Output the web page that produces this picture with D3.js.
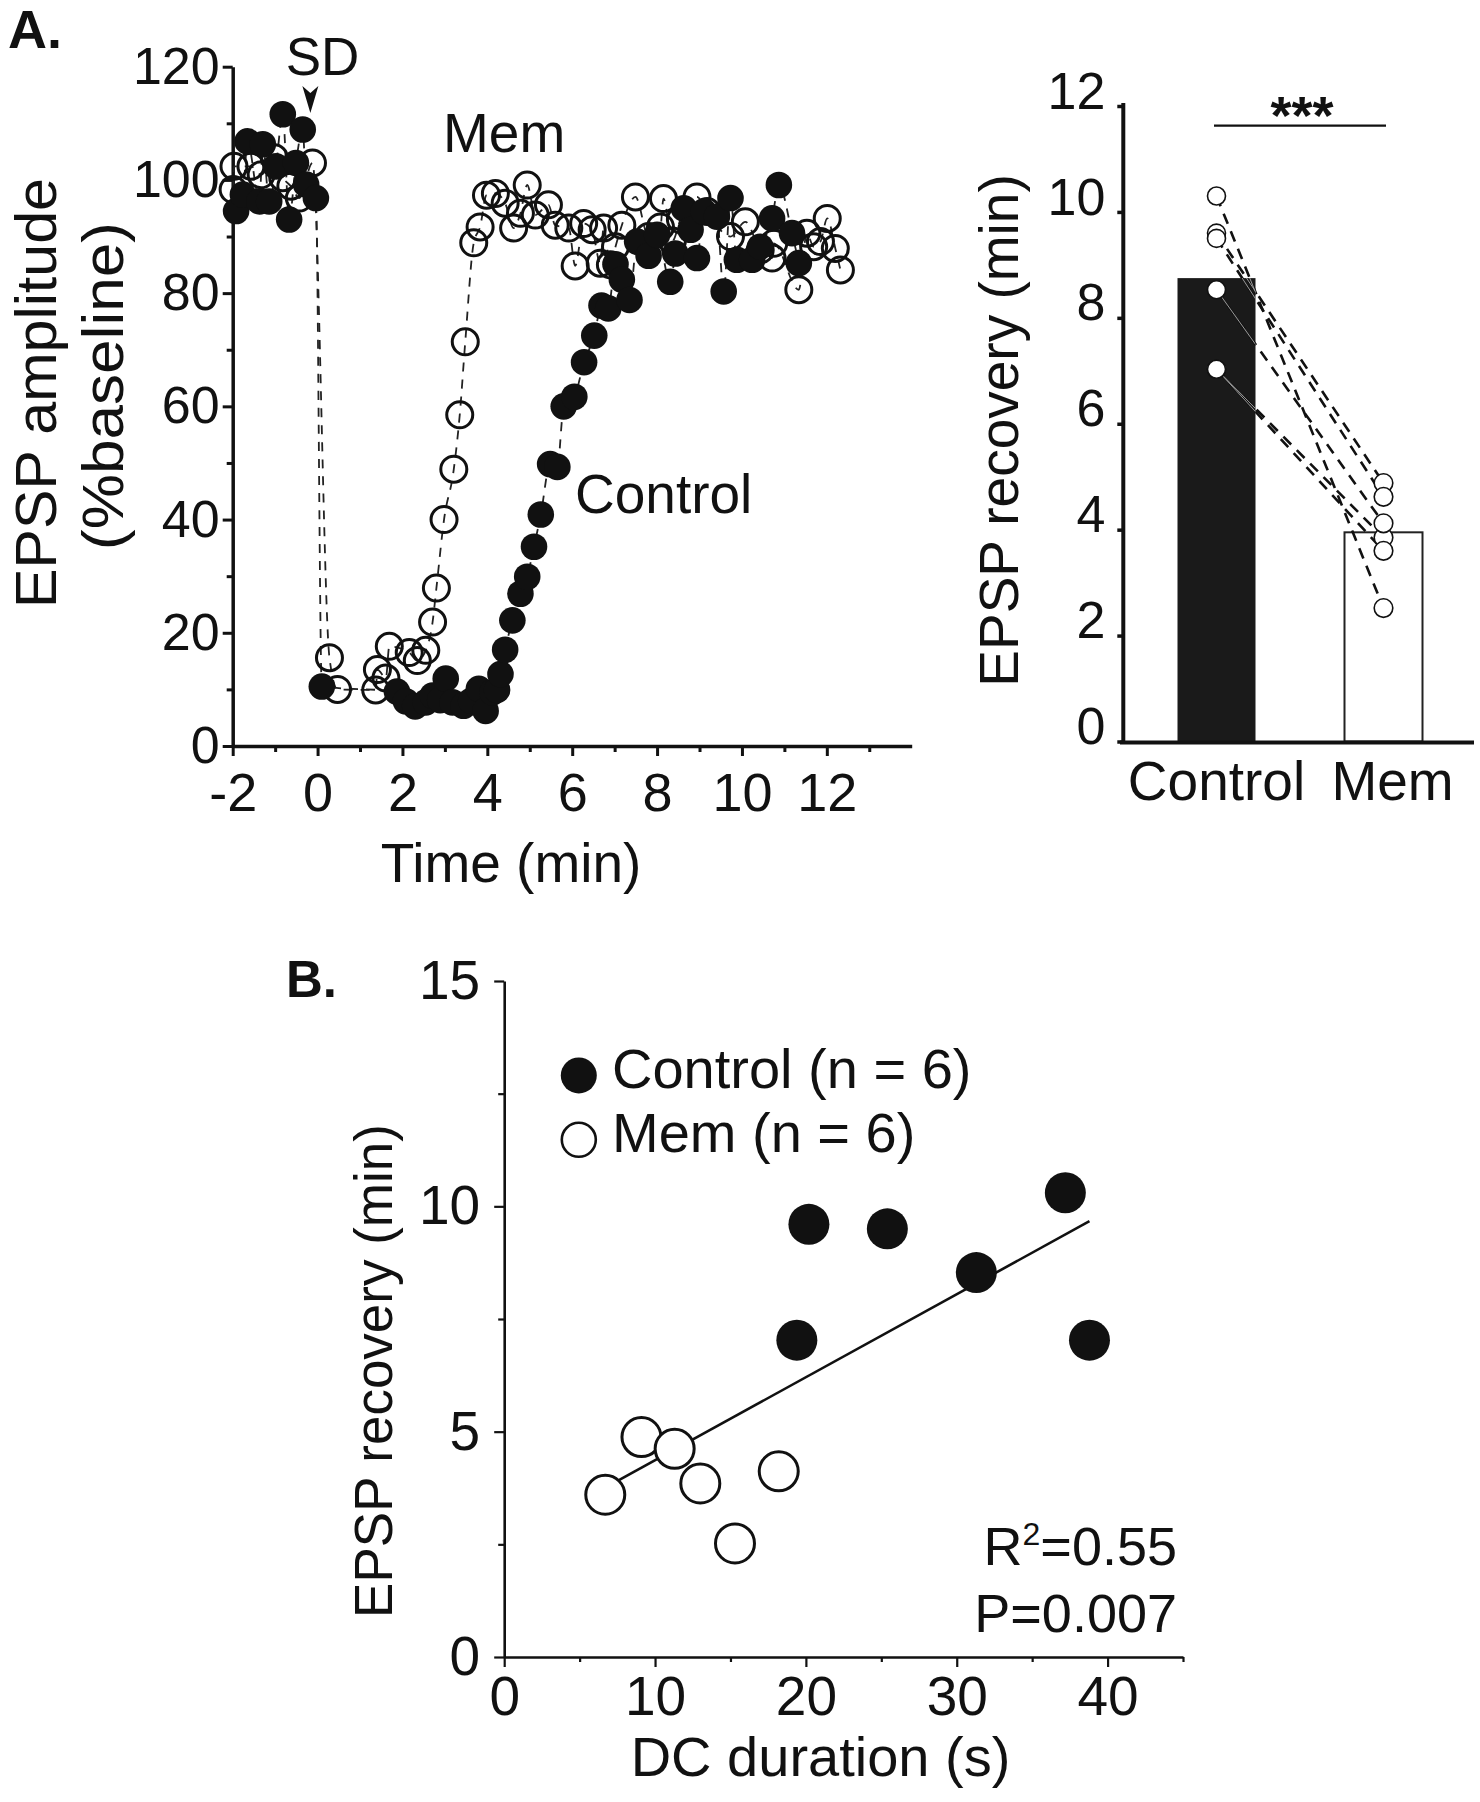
<!DOCTYPE html>
<html><head><meta charset="utf-8">
<script src="https://cdn.jsdelivr.net/npm/d3@7"></script>
<style>
body{margin:0;background:#fff;}
svg text{font-family:"Liberation Sans", Arial, Helvetica, sans-serif; fill:#111;}
</style></head><body>
<svg id="fig" width="1480" height="1802"></svg>
<script>
// ---------------- DATA ----------------
// Panel A (left): EPSP amplitude time course
const controlTime = [-1.92,-1.76,-1.65,-1.37,-1.29,-1.14,-0.98,-0.82,-0.67,-0.51,-0.35,-0.27,-0.04,
  0.10,1.87,2.08,2.30,2.55,2.71,2.89,3.02,3.18,3.44,3.62,3.80,3.96,4.12,4.23,4.31,4.42,4.59,4.78,4.94,
  5.10,5.26,5.48,5.65,5.80,6.05,6.28,6.52,6.69,6.85,7.02,7.17,7.35,7.53,7.80,8.00,8.31,8.43,8.63,8.79,
  8.94,9.10,9.41,9.57,9.73,9.88,10.24,10.43,10.71,10.87,11.18,11.34];
const controlAmp = [94.5,97.4,106.8,96.2,106.3,96.2,102.4,111.6,93.0,103.0,108.9,99.2,96.8,
  10.5,9.6,7.9,7.0,7.7,8.9,8.1,11.9,7.7,7.1,8.0,10.1,6.2,9.5,9.9,12.7,17.0,22.2,26.9,29.9,
  35.2,40.9,49.8,49.3,60.0,61.7,67.8,72.5,77.8,77.3,85.1,82.4,78.8,89.1,86.6,90.3,82.0,87.0,95.0,91.2,
  86.2,94.4,93.5,80.3,96.8,85.9,85.9,88.2,93.2,99.1,90.6,85.3];
const memTime = [-1.99,-1.97,-1.57,-1.33,-1.02,-0.82,-0.63,-0.43,-0.12,
  0.28,0.47,1.37,1.41,1.61,1.69,2.16,2.35,2.55,2.71,2.80,2.98,3.21,3.35,3.48,3.68,3.83,3.98,4.19,4.42,
  4.62,4.78,4.94,5.13,5.44,5.60,5.92,6.07,6.27,6.47,6.66,6.74,6.90,7.02,7.17,7.49,7.80,8.08,8.15,8.36,
  8.55,8.94,9.18,9.73,10.08,10.43,10.71,10.75,11.34,11.53,11.69,11.85,12.01,12.20,12.32];
const memAmp = [98.3,102.4,102.4,100.9,103.9,100.4,98.9,96.8,103.0,
  15.6,10.0,9.9,13.5,12.0,17.6,16.5,15.1,16.9,21.9,27.9,40.0,48.9,58.5,71.4,88.9,91.7,97.3,97.6,95.9,
  91.5,94.1,99.1,93.8,95.6,92.0,91.5,84.8,92.3,91.2,85.3,91.5,85.0,88.2,92.0,97.0,90.0,91.7,96.7,89.2,
  93.0,97.0,94.4,90.0,92.6,87.6,86.2,88.8,80.6,90.6,88.2,89.1,93.2,87.9,84.1];
const timeTicks = [-2,0,2,4,6,8,10,12];
const timeMinorTicks = [-1,1,3,5,7,9,11,13];
const ampTicks = [0,20,40,60,80,100,120];
const ampMinorTicks = [10,30,50,70,90,110];
const sdTime = -0.17;

// Panel A (right) and panel B: EPSP recovery per slice
const groups = ["Control","Mem"];
const groupMeans = [8.75, 3.95];
const controlDC = [20.2, 25.4, 37.2, 31.3, 19.4, 38.8];
const controlRec = [9.6, 9.5, 10.3, 8.53, 7.03, 7.03];
const memDC = [9.1, 11.3, 13.0, 18.2, 6.7, 15.3];
const memRec = [4.88, 4.62, 3.85, 4.12, 3.6, 2.52];
const pairIndex = [0, 1, 5, 3, 2, 4];
const recTicks = [0,2,4,6,8,10,12];
const dcTicks = [0,10,20,30,40];
const dcMinorTicks = [5,15,25,35,45];
const recTicksB = [0,5,10,15];
const recMinorTicksB = [2.5,7.5,12.5];

// ---------------- DRAW ----------------
const svg = d3.select("#fig");
svg.append("rect").attr("width",1480).attr("height",1802).attr("fill","#fff");
const INK = "#111";

function styleAxis(g, fs, domainW, tickW){
  g.attr("font-size", fs).attr("font-family", null);
  g.select(".domain").attr("stroke", INK).attr("stroke-width", domainW);
  g.selectAll(".tick line").attr("stroke", INK).attr("stroke-width", tickW);
  g.selectAll(".tick text").attr("fill", INK);
}

// ===== Panel A left =====
const xA = d3.scaleLinear().domain([-2,14]).range([232.7, 911.7]);
const yA = d3.scaleLinear().domain([0,120]).range([746, 66.7]);

const gA = svg.append("g");
const axYA = gA.append("g").attr("transform",`translate(${xA(-2)},0)`)
  .call(d3.axisLeft(yA).tickValues(ampTicks).tickSize(10).tickSizeOuter(0).tickPadding(3));
styleAxis(axYA, 52, 3.5, 3);
gA.append("g").attr("transform",`translate(${xA(-2)},0)`)
  .call(d3.axisLeft(yA).tickValues(ampMinorTicks).tickSize(6).tickFormat(""))
  .call(g=>{g.select(".domain").remove(); g.selectAll("line").attr("stroke",INK).attr("stroke-width",3);});

const axXA = gA.append("g").attr("transform",`translate(0,${yA(0)})`)
  .call(d3.axisBottom(xA).tickValues(timeTicks).tickSize(10).tickSizeOuter(0).tickPadding(17)
    .tickFormat(d=>String(d)));
styleAxis(axXA, 54, 3.5, 3);
gA.append("g").attr("transform",`translate(0,${yA(0)})`)
  .call(d3.axisBottom(xA).tickValues(timeMinorTicks).tickSize(6).tickFormat(""))
  .call(g=>{g.select(".domain").remove(); g.selectAll("line").attr("stroke",INK).attr("stroke-width",3);});

const lineA = d3.line().x(d=>xA(d[0])).y(d=>yA(d[1])).curve(d3.curveMonotoneX);
const memPts = memTime.map((t,i)=>[t, memAmp[i]]);
const ctlPts = controlTime.map((t,i)=>[t, controlAmp[i]]);

gA.append("path").attr("d", lineA(memPts)).attr("fill","none")
  .attr("stroke","#222").attr("stroke-width",1.8).attr("stroke-dasharray","9,8");
gA.append("path").attr("d", lineA(ctlPts)).attr("fill","none")
  .attr("stroke","#222").attr("stroke-width",1.8).attr("stroke-dasharray","9,8");

gA.append("g").selectAll("circle").data(memPts).join("circle")
  .attr("cx",d=>xA(d[0])).attr("cy",d=>yA(d[1])).attr("r",13)
  .attr("fill","none").attr("stroke",INK).attr("stroke-width",3);
gA.append("g").selectAll("circle").data(ctlPts).join("circle")
  .attr("cx",d=>xA(d[0])).attr("cy",d=>yA(d[1])).attr("r",13.3)
  .attr("fill",INK).attr("stroke","none");

// annotations
gA.append("text").attr("x",8).attr("y",48).attr("font-size",54).attr("font-weight","bold").text("A.");
gA.append("text").attr("x",322.5).attr("y",75).attr("font-size",53).attr("text-anchor","middle").text("SD");
const ax0 = xA(sdTime);
gA.append("path").attr("d",`M${ax0-8},86 L${ax0},93 L${ax0+8},86 L${ax0},113 Z`).attr("fill",INK);
gA.append("text").attr("x",443).attr("y",151.7).attr("font-size",55).text("Mem");
gA.append("text").attr("x",575).attr("y",513).attr("font-size",55).text("Control");
gA.append("text").attr("x",511).attr("y",881.7).attr("font-size",55).attr("text-anchor","middle").text("Time (min)");
gA.append("text").attr("transform","translate(55.8,393) rotate(-90)").attr("font-size",57)
  .attr("text-anchor","middle").attr("textLength",430).attr("lengthAdjust","spacingAndGlyphs")
  .text("EPSP amplitude");
gA.append("text").attr("transform","translate(123,386) rotate(-90)").attr("font-size",57)
  .attr("text-anchor","middle").attr("textLength",328).attr("lengthAdjust","spacingAndGlyphs")
  .text("(%baseline)");

// ===== Panel A right (bars) =====
const yR = d3.scaleLinear().domain([0,12]).range([741.5, 106]);
const xR = d3.scalePoint().domain(groups).range([1216.5, 1383.5]);
const barW = 78;
const gR = svg.append("g");

const axYR = gR.append("g").attr("transform","translate(1123.3,0)")
  .call(d3.axisLeft(yR).tickValues(recTicks).tickSize(6).tickSizeOuter(0).tickPadding(12));
styleAxis(axYR, 52, 4, 3.5);
axYR.selectAll(".tick text").attr("dy","0.04em");
axYR.select(".domain").attr("d","M0,103V743.5");

// bars
gR.append("g").selectAll("rect").data(groups).join("rect")
  .attr("x",d=>xR(d)-barW/2).attr("width",barW)
  .attr("y",(d,i)=>yR(groupMeans[i])).attr("height",(d,i)=>yR(0)-yR(groupMeans[i]))
  .attr("fill",(d,i)=> i===0 ? "#1a1a1a" : "#fff")
  .attr("stroke",(d,i)=> i===0 ? "none" : "#222").attr("stroke-width",2);

// x axis line
gR.append("line").attr("x1",1120).attr("x2",1474).attr("y1",yR(0)+1).attr("y2",yR(0)+1)
  .attr("stroke",INK).attr("stroke-width",4);

// pair lines
const pairs = controlRec.map((v,i)=>[v, memRec[pairIndex[i]]]);
gR.append("g").selectAll("line").data(pairs).join("line")
  .attr("x1",xR("Control")).attr("y1",d=>yR(d[0]))
  .attr("x2",xR("Mem")).attr("y2",d=>yR(d[1]))
  .attr("stroke","#111").attr("stroke-width",2.6).attr("stroke-dasharray","11,8");
svg.append("clipPath").attr("id","ctlbar").append("rect")
  .attr("x",xR("Control")-barW/2).attr("width",barW)
  .attr("y",yR(groupMeans[0])).attr("height",yR(0)-yR(groupMeans[0]));
gR.append("g").attr("clip-path","url(#ctlbar)").selectAll("line").data(pairs).join("line")
  .attr("x1",xR("Control")).attr("y1",d=>yR(d[0]))
  .attr("x2",xR("Mem")).attr("y2",d=>yR(d[1]))
  .attr("stroke","#9a9a9a").attr("stroke-width",1);

// dots
gR.append("g").selectAll("circle").data(controlRec).join("circle")
  .attr("cx",xR("Control")).attr("cy",d=>yR(d)).attr("r",9)
  .attr("fill","#fff").attr("stroke","#111").attr("stroke-width",1.6);
gR.append("g").selectAll("circle").data(memRec).join("circle")
  .attr("cx",xR("Mem")).attr("cy",d=>yR(d)).attr("r",9.3)
  .attr("fill","#fff").attr("stroke","#111").attr("stroke-width",1.6);

// significance
gR.append("line").attr("x1",xR("Control")-2.5).attr("x2",xR("Mem")+2.5)
  .attr("y1",125.7).attr("y2",125.7).attr("stroke",INK).attr("stroke-width",2.2);
gR.append("text").attr("x",(xR("Control")+xR("Mem"))/2+2).attr("y",134).attr("font-size",54)
  .attr("font-weight","bold").attr("text-anchor","middle").text("***");

gR.selectAll("text.grp").data(groups).join("text").attr("class","grp")
  .attr("x",(d,i)=> i===0 ? xR(d) : xR(d)+9).attr("y",800).attr("font-size",55)
  .attr("text-anchor","middle").text(d=>d);
gR.append("text").attr("transform","translate(1018,430.5) rotate(-90)").attr("font-size",55)
  .attr("text-anchor","middle").text("EPSP recovery (min)");

// ===== Panel B =====
const xB = d3.scaleLinear().domain([0,45]).range([504.2, 1183]);
const yB = d3.scaleLinear().domain([0,15]).range([1657, 981]);
const gB = svg.append("g");

const axYB = gB.append("g").attr("transform",`translate(${xB(0)},0)`)
  .call(d3.axisLeft(yB).tickValues(recTicksB).tickSize(10).tickSizeOuter(0).tickPadding(14));
styleAxis(axYB, 55, 2.6, 2.2);
gB.append("g").attr("transform",`translate(${xB(0)},0)`)
  .call(d3.axisLeft(yB).tickValues(recMinorTicksB).tickSize(6).tickFormat(""))
  .call(g=>{g.select(".domain").remove(); g.selectAll("line").attr("stroke",INK).attr("stroke-width",2.2);});
const axXB = gB.append("g").attr("transform",`translate(0,${yB(0)})`)
  .call(d3.axisBottom(xB).tickValues(dcTicks).tickSize(10).tickSizeOuter(0).tickPadding(9));
styleAxis(axXB, 55, 2.6, 2.2);
gB.append("g").attr("transform",`translate(0,${yB(0)})`)
  .call(d3.axisBottom(xB).tickValues(dcMinorTicks).tickSize(5).tickFormat(""))
  .call(g=>{g.select(".domain").remove(); g.selectAll("line").attr("stroke",INK).attr("stroke-width",2.2);});

// regression line (least squares on all points)
const allX = controlDC.concat(memDC), allY = controlRec.concat(memRec);
const mx = d3.mean(allX), my = d3.mean(allY);
const slope = d3.sum(allX.map((x,i)=>(x-mx)*(allY[i]-my))) / d3.sum(allX.map(x=>(x-mx)*(x-mx)));
const icpt = my - slope*mx;
const [x0r, x1r] = d3.extent(allX);
gB.append("line").attr("x1",xB(x0r)).attr("y1",yB(icpt+slope*x0r))
  .attr("x2",xB(x1r)).attr("y2",yB(icpt+slope*x1r)).attr("stroke",INK).attr("stroke-width",2.6);

gB.append("g").selectAll("circle").data(memDC).join("circle")
  .attr("cx",d=>xB(d)).attr("cy",(d,i)=>yB(memRec[i])).attr("r",19.5)
  .attr("fill","#fff").attr("stroke",INK).attr("stroke-width",3);
gB.append("g").selectAll("circle").data(controlDC).join("circle")
  .attr("cx",d=>xB(d)).attr("cy",(d,i)=>yB(controlRec[i])).attr("r",20.5)
  .attr("fill",INK);

// legend
gB.append("circle").attr("cx",578.8).attr("cy",1075.4).attr("r",18).attr("fill",INK);
gB.append("circle").attr("cx",578.8).attr("cy",1139.8).attr("r",17).attr("fill","#fff")
  .attr("stroke",INK).attr("stroke-width",2.6);
gB.append("text").attr("x",612).attr("y",1088).attr("font-size",56).text("Control (n = 6)");
gB.append("text").attr("x",612).attr("y",1152).attr("font-size",56).text("Mem (n = 6)");

// stats
const r2 = gB.append("text").attr("x",1177).attr("y",1565).attr("font-size",54).attr("text-anchor","end");
r2.append("tspan").text("R");
r2.append("tspan").attr("font-size",32).attr("dy",-20).text("2");
r2.append("tspan").attr("dy",20).text("=0.55");
gB.append("text").attr("x",1177).attr("y",1632).attr("font-size",54).attr("text-anchor","end").text("P=0.007");

gB.append("text").attr("x",286).attr("y",996.6).attr("font-size",51).attr("font-weight","bold").text("B.");
gB.append("text").attr("x",820.5).attr("y",1776).attr("font-size",56).attr("text-anchor","middle").text("DC duration (s)");
gB.append("text").attr("transform","translate(391.5,1371) rotate(-90)").attr("font-size",53)
  .attr("text-anchor","middle").text("EPSP recovery (min)");
</script>
</body></html>
